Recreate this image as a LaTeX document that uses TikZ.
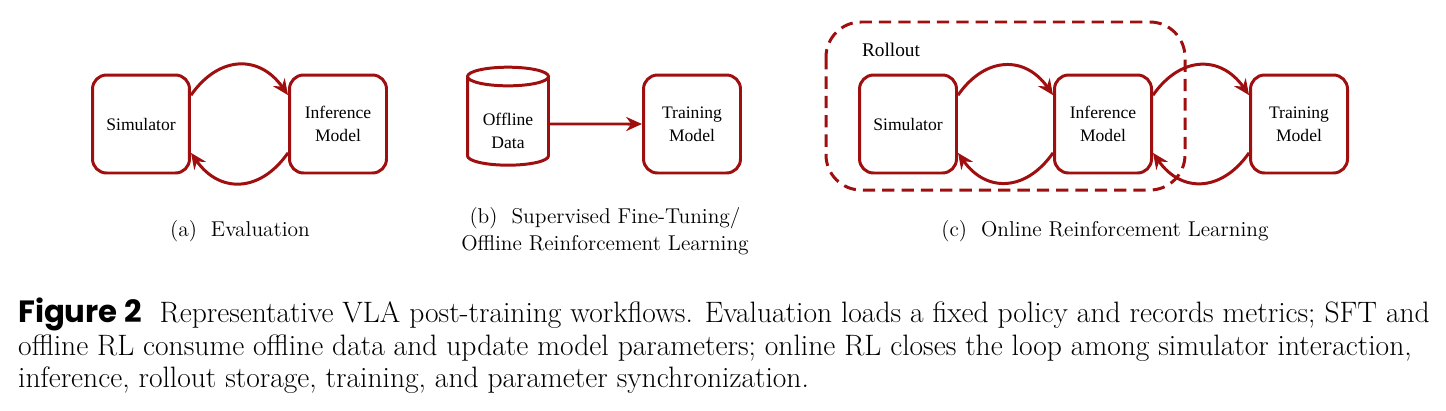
\documentclass[tikz,border=0pt]{standalone}
\usepackage{fontspec}
\newfontfamily\boxfont{Liberation Serif}
\newfontfamily\figfont{Poppins}
\usetikzlibrary{shapes.geometric,arrows.meta}
\definecolor{flowred}{HTML}{A00F0F}
\tikzset{blk/.style={draw=flowred,line width=1.7pt,rounded corners=8pt,minimum width=1.94cm,minimum height=1.96cm,align=center,font=\boxfont\fontsize{10}{13}\selectfont}}
\tikzset{flow/.style={draw=flowred,line width=1.7pt,-{Stealth[length=9pt,width=8pt]},looseness=1.3}}
\tikzset{subcap/.style={font=\fontsize{12.2}{15.5}\selectfont,align=center}}
\tikzset{figline/.style={anchor=west,font=\fontsize{16.8}{18}\selectfont}}

\begin{document}
\begin{tikzpicture}[x=0.02cm,y=-0.02cm]
	\useasboundingbox (0,0) rectangle (1446,410);
	% (a) evaluation
	\node [blk] (simA) at (141,124) {Simulator};
	\node [blk] (infA) at (338,124) {Inference\\Model};
	\draw [flow] (simA.30) to[out=55,in=125] (infA.150);
	\draw [flow] (infA.210) to[out=-125,in=-55] (simA.-30);
	\node [subcap] (capA) at (240,231) {(a)\ \ Evaluation};

	% (b) supervised fine-tuning / offline rl
	\node [cylinder,shape border rotate=90,aspect=0.3,draw=flowred,line width=1.7pt,minimum width=1.62cm,minimum height=1.96cm,align=center,font=\boxfont\fontsize{10}{13}\selectfont] (data) at (508,124) {\\[2pt]Offline\\Data};
	\node [blk] (trnB) at (692,124) {Training\\Model};
	\draw [flow] (data.east) -- (trnB.west);
	\node [subcap] (capB) at (605,231) {(b)\ \ Supervised Fine-Tuning/\\Offline Reinforcement Learning};

	% (c) online rl
	\draw [flowred,line width=1.7pt,dashed,dash pattern=on 7pt off 4pt,rounded corners=20pt] (826,22) rectangle (1185,190);
	\node [font=\boxfont\fontsize{11}{13}\selectfont] (roll) at (891,50) {Rollout};
	\node [blk] (simC) at (908,124) {Simulator};
	\node [blk] (infC) at (1103,124) {Inference\\Model};
	\node [blk] (trnC) at (1299,124) {Training\\Model};
	\draw [flow] (simC.30) to[out=55,in=125] (infC.150);
	\draw [flow] (infC.210) to[out=-125,in=-55] (simC.-30);
	\draw [flow] (infC.30) to[out=55,in=125] (trnC.150);
	\draw [flow] (trnC.210) to[out=-125,in=-55] (infC.-30);
	\node [subcap] (capC) at (1105,231) {(c)\ \ Online Reinforcement Learning};

	% figure caption
	\node [figline] (cap1) at (12,314) {{\figfont\bfseries\fontsize{17.5}{18}\selectfont Figure 2}\ \ Representative VLA post-training workflows. Evaluation loads a fixed policy and records metrics; SFT and};
	\node [figline] (cap2) at (12,348) {offline RL consume offline data and update model parameters; online RL closes the loop among simulator interaction,};
	\node [figline] (cap3) at (12,380) {inference, rollout storage, training, and parameter synchronization.};
\end{tikzpicture}
\end{document}
